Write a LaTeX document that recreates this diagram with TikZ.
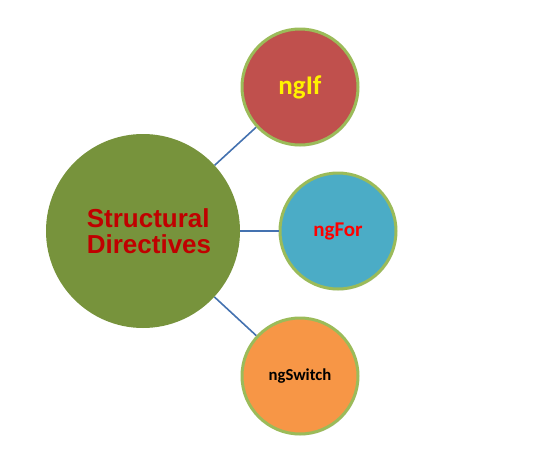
\documentclass[tikz,border=0pt]{standalone}
\usepackage{fontspec}
\setmainfont{Liberation Sans}
\newfontfamily\calibrifont{Carlito}
\usepackage{tikz}
\usetikzlibrary{shadows}
\definecolor{hubgreen}{RGB}{119,147,60}
\definecolor{rimgreen}{RGB}{155,187,89}
\definecolor{ifred}{RGB}{192,80,77}
\definecolor{forblue}{RGB}{75,172,198}
\definecolor{switchorange}{RGB}{247,150,70}
\definecolor{linkblue}{RGB}{68,114,176}
\definecolor{darkred}{RGB}{192,0,0}

\begin{document}
\begin{tikzpicture}[
  x=1pt, y=-1pt,
  hub/.style={circle, fill=hubgreen, minimum size=194pt, inner sep=0pt, align=left,
              font=\fontsize{26}{26}\selectfont\bfseries, text=darkred},
  bubble/.style={circle, draw=rimgreen, line width=3pt, fill=#1, minimum size=116pt,
                 inner sep=0pt, drop shadow={opacity=0.2, shadow xshift=1pt, shadow yshift=-1.5pt}},
  link/.style={line width=1.6pt, linkblue}
]
\useasboundingbox (0,0) rectangle (558,453);
\node[hub] (sd) at (143,231) {\hspace*{12pt}Structural\\\hspace*{12pt}Directives};
\node[bubble=ifred, text=yellow, font=\calibrifont\fontsize{27}{30}\selectfont\bfseries] (ngif) at (300,87) {ngIf};
\node[bubble=forblue, text=red, font=\calibrifont\fontsize{21}{24}\selectfont\bfseries] (ngfor) at (338,231) {ngFor};
\node[bubble=switchorange, text=black, font=\calibrifont\fontsize{16.7}{20}\selectfont\bfseries] (ngswitch) at (300,376) {ngSwitch};
\foreach \to in {ngif, ngfor, ngswitch}
  \draw[link] (sd) -- (\to);
\end{tikzpicture}
\end{document}
